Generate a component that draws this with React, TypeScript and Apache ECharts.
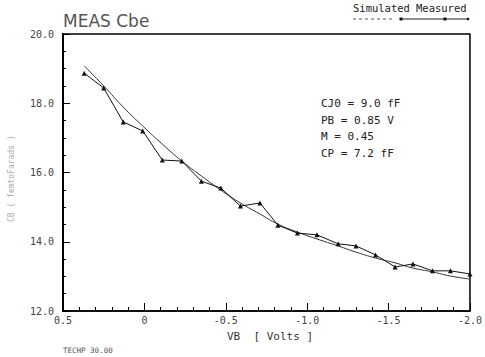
import React, { useEffect, useRef } from "react";
import * as echarts from "echarts";

const vb = [0.37, 0.25, 0.13, 0.01, -0.11, -0.23, -0.35, -0.47, -0.59, -0.71, -0.82, -0.94, -1.06, -1.19, -1.3, -1.42, -1.54, -1.65, -1.77, -1.88, -2.0];
const measured = [18.87, 18.44, 17.46, 17.2, 16.36, 16.33, 15.75, 15.55, 15.03, 15.12, 14.48, 14.25, 14.2, 13.94, 13.88, 13.62, 13.27, 13.36, 13.16, 13.16, 13.07];
const simulated = [19.08, 18.5, 17.89, 17.34, 16.82, 16.33, 15.9, 15.49, 15.12, 14.8, 14.51, 14.28, 14.08, 13.88, 13.7, 13.53, 13.39, 13.24, 13.13, 13.01, 12.92];
const params = ["CJ0 = 9.0 fF", "PB = 0.85 V", "M = 0.45", "CP = 7.2 fF"];
const titleText = "MEAS Cbe";
const xName = "VB  [ Volts ]";
const yName = "CB ( femtoFarads )";
const footer = "TECHP 30.00";

const MONO = "'DejaVu Sans Mono', monospace";

export default function App() {
  const ref = useRef<HTMLDivElement>(null);
  useEffect(() => {
    if (!ref.current) return;
    const chart = echarts.init(ref.current, null, { renderer: "svg" });
    const paramTexts = params.map((t, i) => ({
      type: "text",
      left: 321,
      top: 98 + i * 16.5,
      style: { text: t, font: `11px ${MONO}`, fill: "#222" },
    }));
    chart.setOption({
      animation: false,
      backgroundColor: "#fff",
      title: {
        text: titleText,
        left: 58,
        top: 7,
        textStyle: { fontFamily: "DejaVu Sans", fontSize: 17, fontWeight: "normal", color: "#555" },
      },
      grid: { left: 63, right: 12, top: 34, bottom: 46, show: true, borderColor: "#000", borderWidth: 1.5, backgroundColor: "transparent" },
      xAxis: {
        type: "value",
        min: -2,
        max: 0.5,
        interval: 0.5,
        inverse: true,
        axisLine: { show: true, onZero: false, lineStyle: { color: "#000", width: 1.5 } },
        axisTick: { show: true, inside: true, length: 8, lineStyle: { color: "#000" } },
        minorTick: { show: true, splitNumber: 5, length: 4, lineStyle: { color: "#000" } },
        splitLine: { show: false },
        axisLabel: {
          margin: 4,
          fontFamily: MONO,
          fontSize: 10,
          color: "#444",
          formatter: (v: number) => (Math.abs(v) < 1e-9 ? "0" : v.toFixed(1)),
        },
      },
      yAxis: {
        type: "value",
        min: 12,
        max: 20,
        interval: 2,
        axisLine: { show: true, onZero: false, lineStyle: { color: "#000", width: 2 } },
        axisTick: { show: true, inside: true, length: 7, lineStyle: { color: "#000" } },
        minorTick: { show: true, splitNumber: 4, length: 3, lineStyle: { color: "#000" } },
        splitLine: { show: false },
        axisLabel: {
          margin: 9,
          fontFamily: MONO,
          fontSize: 10,
          color: "#444",
          formatter: (v: number) => v.toFixed(1),
        },
      },
      series: [
        {
          name: "Simulated",
          type: "line",
          smooth: true,
          symbol: "none",
          data: vb.map((x, i) => [x, simulated[i]]),
          lineStyle: { color: "#333", width: 1 },
        },
        {
          name: "Measured",
          type: "line",
          symbol: "triangle",
          symbolSize: 5,
          data: vb.map((x, i) => [x, measured[i]]),
          lineStyle: { color: "#111", width: 1 },
          itemStyle: { color: "#111" },
        },
      ],
      graphic: [
        { type: "text", left: 353, top: 2, style: { text: "Simulated", font: `10.5px ${MONO}`, fill: "#222" } },
        { type: "text", left: 416, top: 2, style: { text: "Measured", font: `10.5px ${MONO}`, fill: "#222" } },
        { type: "line", shape: { x1: 353, y1: 19, x2: 392, y2: 19 }, style: { stroke: "#555", lineWidth: 1, lineDash: [3, 3] } },
        { type: "line", shape: { x1: 400, y1: 19, x2: 468, y2: 19 }, style: { stroke: "#222", lineWidth: 1 } },
        { type: "rect", shape: { x: 399.5, y: 17.5, width: 3, height: 3 }, style: { fill: "#111" } },
        { type: "rect", shape: { x: 443.5, y: 17.5, width: 3, height: 3 }, style: { fill: "#111" } },
        { type: "circle", shape: { cx: 468, cy: 19, r: 1.3 }, style: { fill: "#111" } },
        ...paramTexts,
        {
          type: "text",
          left: 227,
          top: 331,
          style: { text: xName, font: `11px ${MONO}`, fill: "#333" },
        },
        {
          type: "text",
          x: 7,
          y: 222,
          rotation: Math.PI / 2,
          style: { text: yName, font: `8px ${MONO}`, fill: "#aaa" },
        },
        {
          type: "text",
          left: 63,
          top: 346,
          style: { text: footer, font: `7.5px ${MONO}`, fill: "#555" },
        },
      ],
    });
    return () => chart.dispose();
  }, []);
  return <div ref={ref} style={{ width: 485, height: 357, position: "absolute", left: 0, top: 0 }} />;
}
